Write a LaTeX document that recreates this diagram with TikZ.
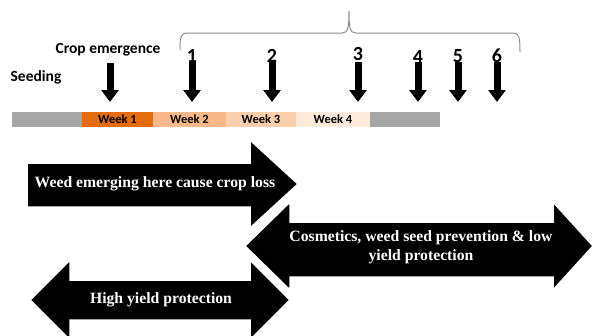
\documentclass[tikz,border=0pt]{standalone}
\usepackage{fontspec}
\setmainfont{Liberation Serif}
\newfontfamily\calfont{Carlito}
\usetikzlibrary{arrows.meta}

\definecolor{weekone}{HTML}{E46C0A}
\definecolor{weektwo}{HTML}{F9B88A}
\definecolor{weekthree}{HTML}{FBCFAC}
\definecolor{weekfour}{HTML}{FDEADA}
\definecolor{bargray}{HTML}{A6A6A6}
\definecolor{bracegray}{HTML}{8C8C8C}

\begin{document}
\begin{tikzpicture}[x=1pt, y=-1pt,
	downarrow/.style={line width=7pt, -{Triangle[width=17pt,length=12pt]}},
	bigarrow/.style={fill=black, draw=white, line width=1.5pt, line join=miter},
	arrowtext/.style={text=white, font=\bfseries\fontsize{15.7}{19}\selectfont, align=center},
	toplabel/.style={font=\calfont\bfseries\fontsize{15.5}{17}\selectfont},
	numlabel/.style={font=\calfont\bfseries\fontsize{20}{22}\selectfont, inner sep=0pt, anchor=south},
	weeklabel/.style={font=\calfont\bfseries\fontsize{12.5}{14}\selectfont}]
	\useasboundingbox (0,0) rectangle (592,335);

	% time bar
	\foreach \a/\b/\c/\t [count=\i] in {12/82/bargray/{}, 82/153/weekone/Week 1, 153/226/weektwo/Week 2, 226/296/weekthree/Week 3, 296/370/weekfour/Week 4, 370/440/bargray/{}}{
	\fill[\c] (\a,112) rectangle (\b,127);
	\node[weeklabel] (w\i) at ({(\a+\b)/2},119.5) {\t};}

	% labels
	\node[toplabel] (seeding) at (36,77) {Seeding};
	\node[toplabel] (emerg) at (108,50) {Crop emergence};
	\coordinate (es) at (110,63);
	\coordinate (ee) at (110,102);
	\draw[downarrow] (es) -- (ee);

	% numbered arrows
	\foreach \n/\x/\y in {1/192/63,2/272/63,3/358/61,4/418/64,5/458/63,6/497/63}{
	\node[numlabel] (n\n) at (\x,\y) {\n};
	\coordinate (e\n) at (\x,102);
	\draw[downarrow] (\x,62) -- (e\n);}

	% brace
	\draw[bracegray, line width=1pt] (180,50) .. controls (180,37) and (181,33) .. (187,33) -- (342,33) .. controls (348,33) and (349,28) .. (349,11)
		.. controls (349,28) and (350,33) .. (356,33) -- (513,33) .. controls (519,33) and (520,37) .. (520,52);

	% big arrows
	\filldraw[bigarrow] (27,163) -- (250,163) -- (250,140) -- (298,184) -- (250,228) -- (250,207) -- (27,207) -- cycle;
	\node[arrowtext] (loss) at (155,184) {Weed emerging here cause crop loss};

	\filldraw[bigarrow] (30,300) -- (70,260) -- (70,280) -- (250,280) -- (250,260) -- (290,300) -- (250,340) -- (250,320) -- (70,320) -- (70,340) -- cycle;
	\node[arrowtext] (high) at (161,300) {High yield protection};

	\filldraw[bigarrow] (245,246) -- (290,202) -- (290,222) -- (553,222) -- (553,202) -- (593,246) -- (553,290) -- (553,277) -- (290,277) -- (290,290) -- cycle;
	\node[arrowtext] (cosm) at (421,247) {Cosmetics, weed seed prevention \& low\\yield protection};
\end{tikzpicture}
\end{document}
